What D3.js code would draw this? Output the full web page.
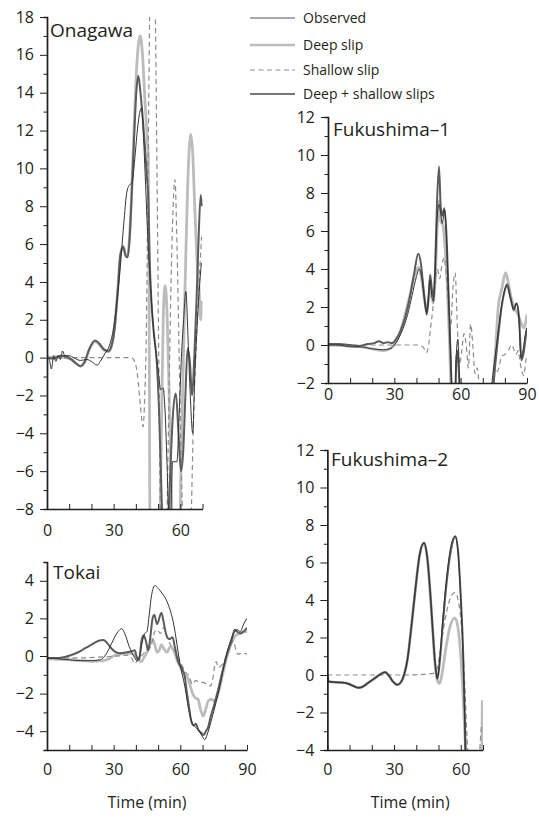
<!DOCTYPE html>
<html>
<head>
<meta charset="utf-8">
<script src="https://cdn.jsdelivr.net/npm/d3@7"></script>
<style>
  body { margin: 0; background: #fff; }
  svg { display: block; }
  text { font-family: 'Open Sans', 'Noto Sans', sans-serif; fill: #231f20; }
</style>
</head>
<body>
<svg id="chart" width="539" height="818"></svg>
<script>
// Tsunami waveforms (m) against time after the earthquake (min), four gauges.
// Each series is a list of [time, height] pairs.

// ---- Onagawa ----
const onagawaObserved = [[0,0],[1,-0.1],[2,-0.6],[3,0.1],[4,-0.2],[5,0.1],[6,-0.1],[7,0.35],[8,0.1],[10,0.1],[12,0],[15,-0.15],[18,-0.1],[20,-0.2],[22.5,-0.4],[24,-0.2],[26,0.2],[28,0.6],[30,1.6],[31.5,3],[33,4.8],[34.5,7],[36,8.8],[37,9.1],[38.3,9.25],[39.5,10.5],[40.5,11.8],[41.5,12.8],[42.6,13.2],[43.5,11.5],[44.5,8.8],[45.5,6],[47,3],[48.5,0.8],[50,-0.6],[51.2,-1.7],[52.3,-1.6],[53,-2.5],[54,-5.5],[54.8,-8.5],[55.5,-9],[56.5,-5.5],[58.5,-5.5],[59.5,-3],[60.5,0],[61.5,2],[62.5,3.5],[63.5,1],[64.5,-2],[65.6,-4],[66.5,-1],[67.5,1.5],[68.5,3.5],[69.5,5]];
const onagawaDeep = [[0,0],[4,0.05],[8,0],[11,-0.1],[13,-0.3],[15,-0.45],[17,-0.25],[19,0.4],[21.5,0.85],[23.5,0.7],[25.5,0.4],[27.5,0.3],[29,0.6],[30.5,1.7],[32,3.8],[33,5.4],[34.3,5.9],[35.5,5.4],[36.3,5.4],[37.2,6.5],[38.2,9],[39.2,12.2],[40.2,15],[41.2,16.6],[42,17],[43,16],[44,13.8],[45,11.8],[45.6,10.6],[46,2],[46.4,-10],[50.5,-10],[51.5,-4],[52.4,2.5],[53.2,3.8],[54,2.5],[55,-2],[56,-7],[56.6,-10],[59.6,-10],[60.3,-6],[61.2,-1],[62.2,4],[63.2,8.6],[64,11],[64.7,11.8],[65.5,11],[66.5,8],[67.5,5.2],[68.5,3.5],[69.2,2],[69.7,3]];
const onagawaShallow = [[0,0],[10,0],[20,0],[30,0],[38,0],[39,-0.1],[40,-0.4],[41,-1.2],[42,-2.5],[43.3,-3.65],[44,-2],[44.8,2],[45.5,10],[46.3,19],[47.5,25],[48.7,19],[49.5,10],[50.3,0],[51,-8],[52,-12],[53.5,-11],[54.5,-5],[55.5,2],[56.5,7],[57.6,9.4],[58.5,6],[59.5,0],[60.5,-6],[61.5,-9.5],[63,-11],[64.7,-9],[66,-3],[67.5,1.5],[68.7,4.5],[69.6,6.4]];
const onagawaCombined = [[0,0],[3,-0.05],[6,0.1],[9,0.05],[11,-0.1],[13,-0.3],[15,-0.45],[17,-0.2],[19,0.45],[21.7,0.9],[23.5,0.75],[25.5,0.45],[27.7,0.35],[29,0.6],[30.5,1.6],[32,3.8],[33,5.4],[34.3,5.85],[35.5,5.35],[36.3,5.3],[37.2,6.3],[38.2,8.8],[39.2,11.6],[40.2,14],[41.1,14.9],[42,14.1],[43,12.8],[44,11.3],[45,9.5],[45.6,8.5],[46.2,5.3],[47,3],[48,1.4],[49.4,-0.2],[50.5,-3],[51.5,-7],[52.5,-10],[54,-10],[55.5,-6],[56.7,-3],[58,-1.9],[59.2,-4],[60.3,-6],[61.3,-5],[62.3,-2],[63.3,0.5],[64.3,-0.2],[65.3,-2],[66.3,0],[67.3,3],[68.3,6.5],[69.2,8.6],[69.8,8]];

// ---- Fukushima-1 ----
const fuku1Observed = [[0,0],[5,0],[10,-0.1],[15,-0.1],[20,-0.2],[25,-0.25],[28,-0.2],[30,0],[33,0.6],[36,1.6],[38,2.6],[40,3.6],[41.2,4],[42.3,3.6],[43.5,2.5],[44.6,1.7],[45.4,2.4],[46.1,3.4],[46.9,2.6],[47.7,2.3],[48.4,3.8],[49.3,6.6],[50.3,7.4],[51,6.9],[51.7,6.4],[52.7,7.1],[53.6,5.5],[54.4,3],[55.2,0.5],[55.9,-2],[56.5,-3],[57.4,-3],[58,-0.6],[58.7,0.3],[59.4,-1.4],[60.1,-3],[73,-3],[74.5,-1.6],[76,-0.2],[77.5,1.2],[79,2.4],[80.8,3.1],[82.5,2.5],[84,1.8],[85.2,2.2],[86.3,1.4],[87.3,-0.7],[88.3,-0.2],[89.3,0.6],[90,0.9]];
const fuku1Deep = [[0,0],[10,-0.05],[15,-0.1],[20,-0.2],[25,-0.3],[28,-0.2],[31,0.2],[34,1.2],[37,2.6],[39,3.6],[41,4.1],[42.2,3.6],[43.5,2.5],[44.6,1.8],[45.5,2.4],[46.5,3],[47.5,2.2],[48.5,3.5],[49.5,6.5],[50.3,7.6],[51,6.5],[52,6.3],[53,5],[54,3],[55,0],[56,-3],[74,-3],[74.8,-1.9],[76,0.2],[77,2],[78.5,2.9],[80.4,3.8],[81.5,3.3],[83,2.4],[84.5,1.9],[86,1.6],[87.5,1.1],[88.5,0.9],[90,1.6]];
const fuku1Shallow = [[0,0],[20,0],[40,0],[43,-0.1],[44.5,-0.4],[45.5,0],[46.5,1],[47.5,2],[48.5,3.4],[49.5,4],[50.5,3.5],[51.5,4.2],[52.5,4.6],[53.5,3.7],[54.5,2],[55.5,1],[56.5,3],[57.5,3.8],[58.5,1],[59.5,-1],[60.5,-0.3],[61.5,0.6],[62.5,0],[63.5,-1.2],[64.5,1.1],[65.5,0],[66.5,-1.5],[67.5,-1.2],[68.5,-2.2],[70,-2.6],[72,-2.6],[74,-2.3],[75.5,-1.5],[77,-1.3],[78.5,-0.6],[80,-0.5],[81.5,-0.3],[83,0],[84,-0.2],[85,-0.5],[86,-0.3],[87,-1],[88.5,-1.6],[89.5,-0.8],[90,-0.5]];
const fuku1Combined = [[0,0.05],[5,0.05],[10,0],[14,-0.05],[18,0.05],[21,0.1],[23,0.2],[25,0.1],[27,0.15],[29,0.1],[31,0.35],[33,0.8],[35,1.5],[37,2.5],[39,3.8],[40.8,4.8],[42,4.3],[43,3.2],[44,2.1],[44.7,1.6],[45.5,2.6],[46.2,3.7],[47,2.9],[47.8,2.5],[48.5,4.2],[49.3,7.5],[50.2,9.4],[51,7.2],[51.6,6.8],[52.6,7.2],[53.5,6],[54.3,3.5],[55,1],[55.7,-1.5],[56.3,-3],[57.5,-3],[58,-0.8],[58.6,-0.3],[59.2,-1.5],[59.8,-3],[74,-3],[75.5,-1.2],[77,0.5],[78.5,2],[80,2.9],[81,3.2],[82.5,2.5],[84,1.9],[85.3,2.2],[86.5,1.3],[87.5,-0.8],[88.5,-0.4],[89.5,0.5],[90,0.9]];

// ---- Tokai ----
const tokaiObserved = [[0,-0.1],[5,-0.15],[10,-0.2],[15,-0.25],[20,-0.25],[24,-0.2],[26,0],[28,0.4],[30,0.9],[32,1.3],[33.6,1.45],[35,1.2],[37,0.5],[39,0],[40.5,-0.25],[42,0.2],[43,0.8],[44,1.2],[45,1.3],[46,2.2],[47,3.2],[48.6,3.75],[50,3.6],[52,3.3],[54,2.9],[56,2.2],[57,1.7],[58,1],[59,0.2],[60,-0.5],[62,-1.6],[64,-3],[65.5,-3.6],[67,-3.8],[68.5,-4],[70,-4.3],[71,-4.45],[72,-4.2],[74,-3.4],[76,-2.5],[78,-1.5],[80,-0.3],[82,0.6],[84,1.2],[85.5,1.4],[87,1.3],[88.5,1.7],[90,2]];
const tokaiDeep = [[0,-0.15],[10,-0.2],[20,-0.28],[25,-0.25],[28,-0.15],[30,0],[33,0.1],[36,0.15],[39,0.1],[41,-0.2],[42.5,-0.3],[43.5,-0.1],[45,0.2],[46,0.5],[47.5,0.9],[48.5,0.6],[49.5,0.2],[50.5,0.3],[51.5,0.6],[52.5,0.4],[54,0.2],[55.5,0.5],[57,0.3],[58.5,-0.2],[60,-0.6],[62,-1],[63.5,-1.2],[64.5,-1.6],[65.5,-2],[66.5,-2.2],[68,-2.3],[69,-2.8],[70.3,-3.2],[71.5,-2.8],[72.5,-2.4],[74,-2.3],[75.5,-2.4],[77,-2],[79,-1],[81,0],[83,0.7],[85,1.1],[87,1.2],[89,1.3],[90,1.3]];
const tokaiShallow = [[0,-0.1],[15,-0.1],[25,-0.05],[32,0],[36,0.05],[38,-0.1],[39.5,-0.4],[41,-0.2],[42.5,0],[44,0.2],[45.5,0.3],[47,0.6],[48.5,1.3],[49.5,1.4],[51,1.2],[52.5,1.5],[54,1],[55.5,0.6],[57,0.4],[58.5,0.1],[60,-0.3],[62,-0.8],[64,-1.1],[65.5,-1.5],[67,-1.3],[68.5,-1.4],[70,-1.4],[72,-1.5],[73.5,-1.6],[74.5,-1.3],[75.5,-0.5],[76.2,-0.3],[77,-0.6],[78.5,-0.5],[80,-0.2],[82,0.4],[84,0.8],[85,0.3],[86,0.1],[88,0.15],[90,0.1]];
const tokaiCombined = [[0,-0.1],[5,-0.1],[8,-0.05],[11,0.05],[14,0.2],[17,0.4],[20,0.6],[23,0.8],[25.4,0.85],[27,0.7],[29,0.4],[31,0.2],[33,0.15],[36,0.2],[38,0.25],[39.5,0.3],[40.5,-0.1],[41.5,-0.2],[42.5,0.8],[43.5,1.1],[44.5,0.8],[45.5,0.3],[46.5,1],[47.5,2],[48.3,2.2],[49.5,1.7],[51.5,2.3],[52.5,1.8],[53.5,1.2],[55,0.9],[56.5,1],[57.5,0.5],[59,-0.3],[60.5,-0.6],[62,-1.1],[63,-2],[64,-2.8],[65,-3.5],[66,-3.7],[67,-3.6],[68,-3.9],[69.5,-4.1],[70.5,-4.2],[71.5,-4],[72.5,-3.8],[73.5,-3.3],[75,-2.7],[77,-1.8],[79,-0.8],[81,0.1],[83,0.8],[84.5,1.4],[85.5,1.3],[87,1.2],[88.5,1.3],[90,1.5]];

// ---- Fukushima-2 ----
const fuku2Observed = [[0,0],[0.6,-0.35],[3,-0.38],[6,-0.4],[9,-0.45],[12,-0.6],[14,-0.68],[16,-0.62],[18,-0.45],[21,-0.2],[24,0.05],[26,0.15],[27.5,0],[29.5,-0.35],[31.5,-0.52],[33,-0.4],[34.5,0],[36,0.8],[38,2.8],[40,5],[41.5,6.4],[43.5,7.05],[45,6.2],[46.5,4],[47.5,2.2],[48.5,0.6],[49.5,-0.2],[50.5,0.8],[52,3.1],[54,5.6],[56,7.1],[57.5,7.4],[58.8,6.5],[60,4],[61,1.2],[61.7,-2],[62.1,-4.5]];
const fuku2Deep = [[0,0],[0.6,-0.35],[3,-0.38],[6,-0.4],[9,-0.45],[12,-0.6],[14,-0.68],[16,-0.62],[18,-0.45],[21,-0.2],[24,0.05],[26,0.15],[27.5,0],[29.5,-0.35],[31.5,-0.52],[33,-0.4],[34.5,0],[36,0.8],[38,2.8],[40,5],[41.5,6.4],[43.5,7],[45,6.2],[46.5,4],[47.5,2.2],[48.5,0.5],[49.5,-0.3],[50.5,-0.45],[51.5,0],[53,1.2],[55,2.5],[57.3,3.05],[58.8,2.5],[60,1],[61,-1],[62,-3.5],[62.5,-4.3],[69.5,-4.3],[69.7,-1.35]];
const fuku2Shallow = [[0,0],[20,0],[35,0],[45,0.05],[48,0.1],[49.5,0.4],[51,1.5],[53,3],[55,4],[56.5,4.35],[57.5,4.4],[58.8,4],[60,3],[61,1.3],[62,-1],[62.7,-3],[63.3,-4.3],[68.3,-4.3],[68.8,-3.5],[69.3,-2.7]];
const fuku2Combined = [[0,0],[0.6,-0.35],[3,-0.38],[6,-0.4],[9,-0.45],[12,-0.6],[14,-0.68],[16,-0.62],[18,-0.45],[21,-0.2],[24,0.05],[26,0.15],[27.5,0],[29.5,-0.35],[31.5,-0.52],[33,-0.4],[34.5,0],[36,0.8],[38,2.8],[40,5],[41.5,6.4],[43.5,7.05],[45,6.2],[46.5,4],[47.5,2.2],[48.5,0.6],[49.5,-0.2],[50.5,0.6],[52,2.8],[54,5.3],[56,6.9],[57.5,7.4],[58.8,6.6],[60,4.2],[61,1.5],[61.8,-2],[62.2,-4.5]];

// Axis tick values
const onagawaYTicks = [-8, -6, -4, -2, 0, 2, 4, 6, 8, 10, 12, 14, 16, 18];
const fukuYTicks = [-2, 0, 2, 4, 6, 8, 10, 12];
const fuku2YTicks = [-4, -2, 0, 2, 4, 6, 8, 10, 12];
const tokaiYTicks = [-4, -2, 0, 2, 4];
const xLabels70 = [0, 30, 60];
const xLabels90 = [0, 30, 60, 90];

// Legend entries
const legendLabels = ['Observed', 'Deep slip', 'Shallow slip', 'Deep + shallow slips'];

// Line styles, keyed by series
const styles = {
  deep:     { stroke: '#bcbcbc', width: 2.8, dash: null },
  shallow:  { stroke: '#8c8c8c', width: 1.2, dash: '5,3.5' },
  combined: { stroke: '#5c5c5c', width: 2.0, dash: null },
  observed: { stroke: '#333333', width: 1.0, dash: null }
};
const drawOrder = ['deep', 'shallow', 'combined', 'observed'];

const panels = [
  { name: 'Onagawa', id: 'ona', left: 47, right: 202.5, top: 17, bottom: 509,
    xDomain: [0, 70], yDomain: [-8, 18], yMajor: onagawaYTicks, xLabels: xLabels70,
    titleX: 50, titleY: 37, xGap: 16, xTitle: false,
    series: { observed: onagawaObserved, deep: onagawaDeep, shallow: onagawaShallow, combined: onagawaCombined } },
  { name: 'Fukushima\u20131', id: 'f1', left: 328, right: 527, top: 117, bottom: 383,
    xDomain: [0, 90], yDomain: [-2, 12], yMajor: fukuYTicks, xLabels: xLabels90,
    titleX: 333, titleY: 136, xGap: 6, xTitle: false,
    series: { observed: fuku1Observed, deep: fuku1Deep, shallow: fuku1Shallow, combined: fuku1Combined } },
  { name: 'Tokai', id: 'tok', left: 47, right: 247, top: 562, bottom: 750,
    xDomain: [0, 90], yDomain: [-5, 5], yMajor: tokaiYTicks, xLabels: xLabels90,
    titleX: 53, titleY: 579, xGap: 14, xTitle: true,
    series: { observed: tokaiObserved, deep: tokaiDeep, shallow: tokaiShallow, combined: tokaiCombined } },
  { name: 'Fukushima\u20132', id: 'f2', left: 327.3, right: 483, top: 450, bottom: 750,
    xDomain: [0, 70], yDomain: [-4, 12], yMajor: fuku2YTicks, xLabels: xLabels70,
    titleX: 331, titleY: 466, xGap: 14, xTitle: true,
    series: { observed: fuku2Observed, deep: fuku2Deep, shallow: fuku2Shallow, combined: fuku2Combined } }
];

const svg = d3.select('#chart');
const defs = svg.append('defs');

function styleAxis(g) {
  g.select('.domain').attr('stroke', '#231f20').attr('stroke-width', 1.4);
  g.selectAll('.tick line').attr('stroke', '#231f20').attr('stroke-width', 1);
  g.selectAll('.tick text').attr('font-size', 16).attr('fill', '#231f20')
    .attr('font-family', "'Open Sans', 'Noto Sans', sans-serif");
}

panels.forEach(p => {
  const x = d3.scaleLinear().domain(p.xDomain).range([p.left, p.right]);
  const y = d3.scaleLinear().domain(p.yDomain).range([p.bottom, p.top]);
  const g = svg.append('g').attr('class', 'panel-' + p.id);

  defs.append('clipPath').attr('id', 'clip-' + p.id)
    .append('rect')
    .attr('x', p.left).attr('y', p.top)
    .attr('width', p.right - p.left).attr('height', p.bottom - p.top);

  const line = d3.line()
    .x(d => x(d[0])).y(d => y(d[1]))
    .curve(d3.curveMonotoneX);

  const plot = g.append('g').attr('clip-path', 'url(#clip-' + p.id + ')');
  drawOrder.forEach(key => {
    const s = styles[key];
    plot.append('path')
      .datum(p.series[key])
      .attr('fill', 'none')
      .attr('stroke', s.stroke)
      .attr('stroke-width', s.width)
      .attr('stroke-dasharray', s.dash)
      .attr('stroke-linejoin', 'round')
      .attr('d', line);
  });

  // Y axis: labelled even ticks, short unlabelled odd ticks
  const yMinor = d3.range(p.yDomain[0], p.yDomain[1] + 1).filter(v => !p.yMajor.includes(v));
  const yMinorAxis = g.append('g').attr('transform', `translate(${p.left},0)`)
    .call(d3.axisLeft(y).tickValues(yMinor).tickSize(3.5).tickFormat(''));
  styleAxis(yMinorAxis);
  const yAxis = g.append('g').attr('transform', `translate(${p.left},0)`)
    .call(d3.axisLeft(y).tickValues(p.yMajor).tickSizeInner(7).tickSizeOuter(0).tickPadding(6));
  styleAxis(yAxis);

  // X axis: ticks every 10 min pointing inward, labels every 30 min
  const xTicks = d3.range(p.xDomain[0], p.xDomain[1] + 1, 10);
  const xAxis = g.append('g').attr('transform', `translate(0,${p.bottom})`)
    .call(d3.axisBottom(x).tickValues(xTicks).tickSizeInner(-5).tickSizeOuter(0)
      .tickPadding(p.xGap)
      .tickFormat(v => p.xLabels.includes(v) ? d3.format('d')(v) : ''));
  styleAxis(xAxis);

  g.append('text')
    .attr('x', p.titleX).attr('y', p.titleY)
    .attr('font-size', 19)
    .text(p.name);

  if (p.xTitle) {
    g.append('text')
      .attr('x', (p.left + p.right) / 2 + (p.id === 'f2' ? 5 : 0)).attr('y', 808)
      .attr('text-anchor', 'middle')
      .attr('font-size', 16)
      .text('Time (min)');
  }
});

// Legend
const legendKeys = ['observed', 'deep', 'shallow', 'combined'];
const legendY = [18, 45, 70, 94];
const legend = svg.append('g').attr('class', 'legend');
legendKeys.forEach((key, i) => {
  const s = styles[key];
  legend.append('line')
    .attr('x1', 250).attr('x2', 295)
    .attr('y1', legendY[i]).attr('y2', legendY[i])
    .attr('stroke', key === 'observed' ? '#555' : (key === 'combined' ? '#777' : s.stroke))
    .attr('stroke-width', key === 'deep' ? 2.4 : (key === 'combined' ? 2 : s.width))
    .attr('stroke-dasharray', s.dash);
  legend.append('text')
    .attr('x', 303).attr('y', legendY[i]).attr('dy', '0.35em')
    .attr('font-size', 14)
    .text(legendLabels[i]);
});
</script>
</body>
</html>
